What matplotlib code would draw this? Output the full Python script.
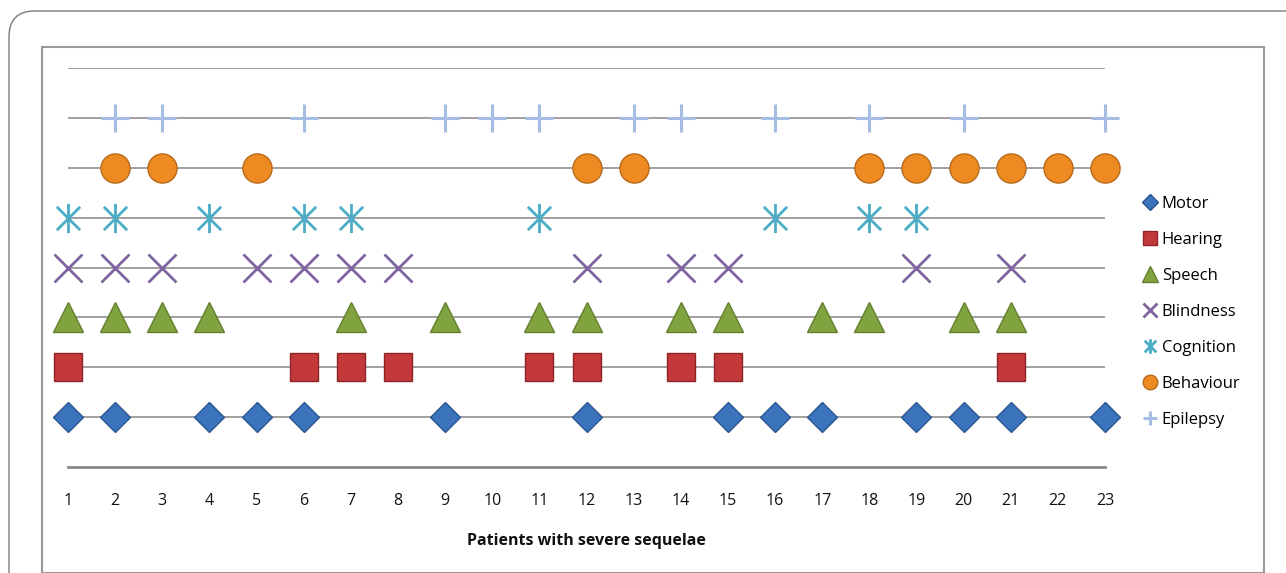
import matplotlib
matplotlib.use("Agg")
import matplotlib.pyplot as plt
from matplotlib.path import Path
from matplotlib.patches import FancyBboxPatch, Rectangle

plt.rcParams['font.family'] = ['Open Sans', 'DejaVu Sans']

# ---- data ----
patients = list(range(1, 24))
series_names = ["Motor", "Hearing", "Speech", "Blindness", "Cognition", "Behaviour", "Epilepsy"]
motor = [1, 2, 4, 5, 6, 9, 12, 15, 16, 17, 19, 20, 21, 23]
hearing = [1, 6, 7, 8, 11, 12, 14, 15, 21]
speech = [1, 2, 3, 4, 7, 9, 11, 12, 14, 15, 17, 18, 20, 21]
blindness = [1, 2, 3, 5, 6, 7, 8, 12, 14, 15, 19, 21]
cognition = [1, 2, 4, 6, 7, 11, 16, 18, 19]
behaviour = [2, 3, 5, 12, 13, 18, 19, 20, 21, 22, 23]
epilepsy = [2, 3, 6, 9, 10, 11, 13, 14, 16, 18, 20, 23]
series_values = [motor, hearing, speech, blindness, cognition, behaviour, epilepsy]
row_levels = [1, 2, 3, 4, 5, 6, 7]
x_label = "Patients with severe sequelae"

# asterisk marker: vertical line + two diagonals
ast = Path([(0, -1), (0, 1), (-0.8, -0.8), (0.8, 0.8), (-0.8, 0.8), (0.8, -0.8)],
           [Path.MOVETO, Path.LINETO, Path.MOVETO, Path.LINETO, Path.MOVETO, Path.LINETO])

styles = [
    dict(marker='D', ms=15.5, mfc='#3B74BC', mec='#2B5690', mew=1.0),
    dict(marker='s', ms=19.5, mfc='#C3393B', mec='#8E2426', mew=1.0),
    dict(marker='^', ms=22, mfc='#80A33F', mec='#62802E', mew=1.0),
    dict(marker='x', ms=20, mfc='none', mec='#8064A2', mew=2.0),
    dict(marker=ast, ms=21, mfc='none', mec='#4BACC6', mew=2.0),
    dict(marker='o', ms=21, mfc='#EE8A22', mec='#B86A1B', mew=1.0),
    dict(marker='+', ms=20, mfc='none', mec='#A5BDE2', mew=2.2),
]

W, H = 1286, 573
fig = plt.figure(figsize=(W / 100, H / 100), dpi=100)


def fx(px):
    return px / W


def fy(py):
    return 1 - py / H


outer = FancyBboxPatch((fx(9), fy(600)), fx(1320 - 9), fy(11) - fy(600),
                       boxstyle="round,pad=0,rounding_size=0.02",
                       transform=fig.transFigure, fill=False, ec='#7a7a7a', lw=1.0,
                       mutation_aspect=W / H)
fig.add_artist(outer)
inner = Rectangle((fx(41.5), fy(572.5)), fx(1264) - fx(41.5), fy(46.5) - fy(572.5),
                  transform=fig.transFigure, fill=False, ec='#9a9a9a', lw=1.5)
fig.add_artist(inner)

ax = fig.add_axes([fx(68), fy(467), fx(1105) - fx(68), fy(68) - fy(467)])
ax.set_xlim(1, 23)
ax.set_ylim(0, 8)
for s in ax.spines.values():
    s.set_visible(False)

for lvl in range(1, 9):
    ax.axhline(lvl, color='#a0a0a0', lw=1.4, zorder=1)
ax.axhline(0, color='#8a8a8a', lw=2.0, zorder=1, clip_on=False)

handles = []
for name, vals, lvl, st in zip(series_names, series_values, row_levels, styles):
    ln, = ax.plot(vals, [lvl] * len(vals), linestyle='none', clip_on=False, zorder=3,
                  label=name, **st)
    handles.append(ln)

ax.set_xticks(patients)
ax.set_xticklabels([str(p) for p in patients], fontsize=11.5, color='#111111')
ax.tick_params(axis='x', length=0, pad=19)
ax.set_yticks([])
ax.set_xlabel(x_label, fontsize=11.5, fontweight='bold', labelpad=17, color='#111111')

leg = fig.legend(handles=handles, loc='upper left', bbox_to_anchor=(fx(1136), fy(189)),
                 frameon=False, fontsize=12, markerscale=0.5, handlelength=0.9,
                 handletextpad=0.25, labelspacing=1.2, borderaxespad=0)

fig.savefig("out.png", dpi=100)
